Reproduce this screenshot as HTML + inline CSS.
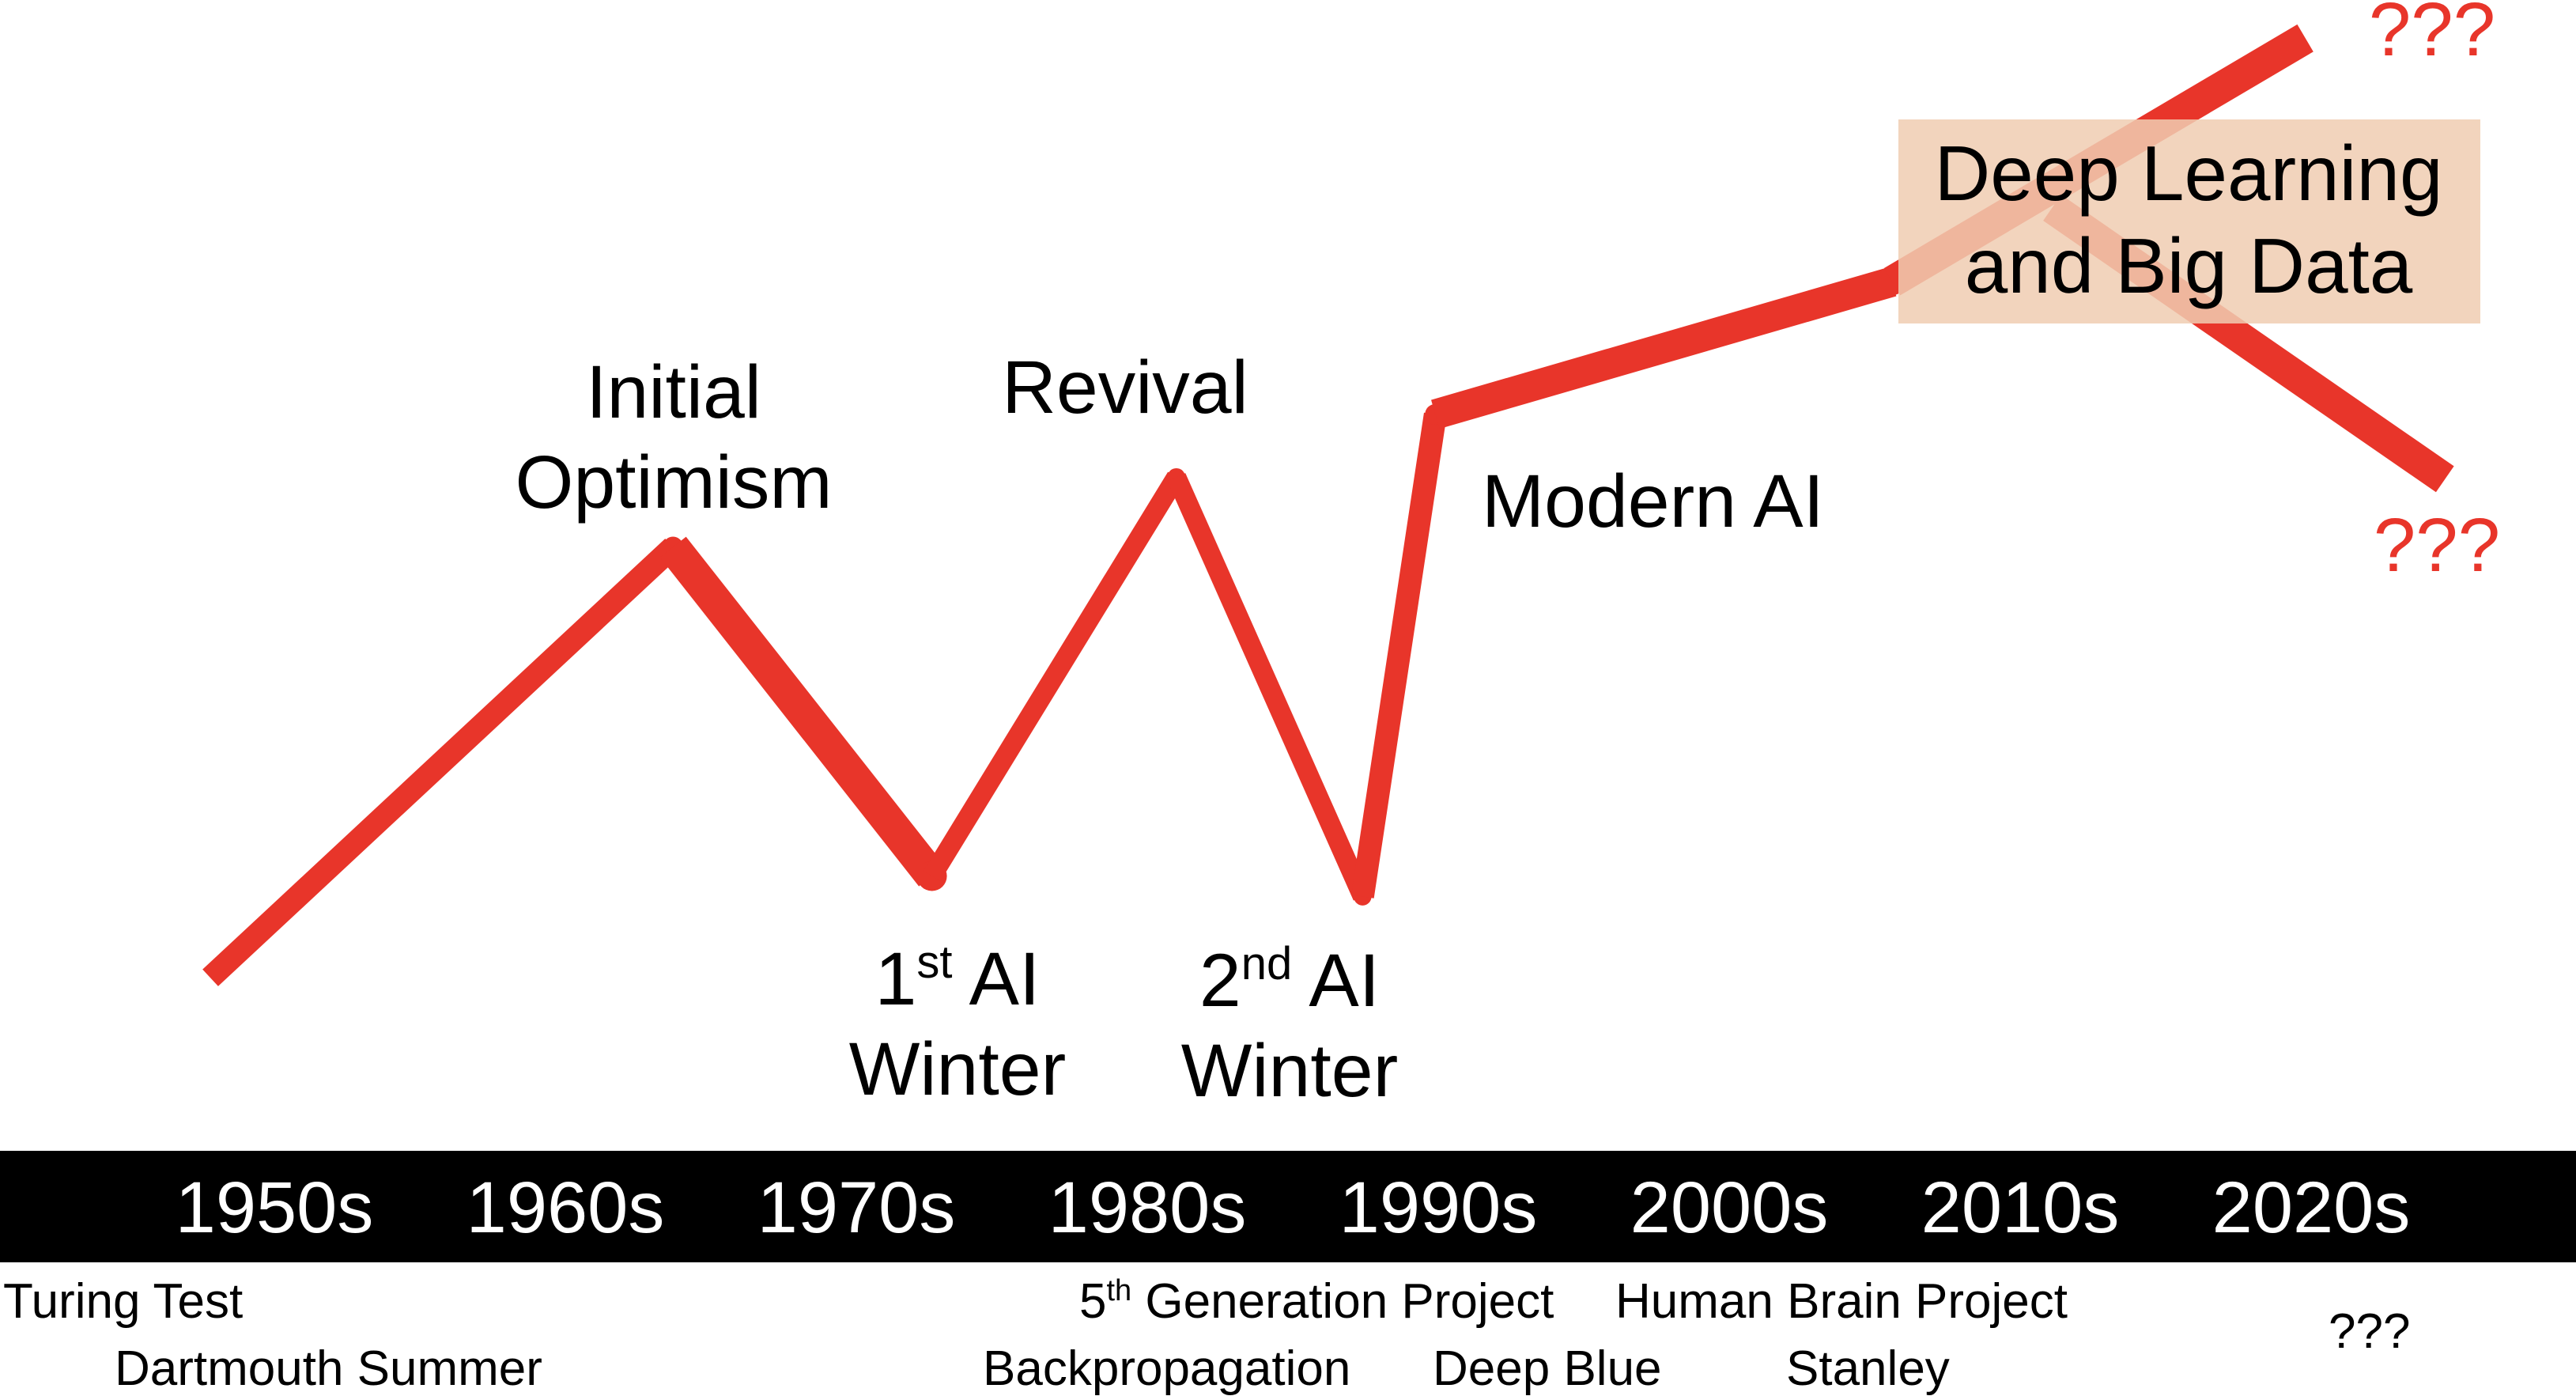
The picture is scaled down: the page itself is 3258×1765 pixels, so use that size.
<!DOCTYPE html>
<html><head><meta charset="utf-8">
<style>
html,body{margin:0;padding:0;background:#fff;}
svg{display:block;font-family:"Liberation Sans",sans-serif;}
</style></head>
<body>
<svg id="chart" width="3258" height="1765" viewBox="0 0 3258 1765">
  <g id="lines"></g>
  <rect x="2401" y="151" width="736" height="258" fill="rgb(240,205,178)" fill-opacity="0.85"/>
  <text x="2768" y="253" font-size="98" text-anchor="middle" fill="#000">Deep Learning</text>
  <text x="2768" y="370" font-size="98" text-anchor="middle" fill="#000">and Big Data</text>
  <text x="3076" y="70" font-size="96" text-anchor="middle" fill="#e8352a">???</text>
  <text x="3082" y="722" font-size="96" text-anchor="middle" fill="#e8352a">???</text>

  <text font-size="95" text-anchor="middle" fill="#000"><tspan x="852" y="528">Initial</tspan><tspan x="852" y="642">Optimism</tspan></text>
  <text x="1423" y="522" font-size="95" text-anchor="middle" fill="#000">Revival</text>
  <text x="1874" y="666" font-size="95" fill="#000">Modern AI</text>
  <text font-size="95" text-anchor="middle" fill="#000"><tspan x="1211" y="1270">1<tspan font-size="58" dy="-34">st</tspan><tspan dy="34"> AI</tspan></tspan><tspan x="1211" y="1384">Winter</tspan></text>
  <text font-size="95" text-anchor="middle" fill="#000"><tspan x="1631" y="1272">2<tspan font-size="58" dy="-34">nd</tspan><tspan dy="34"> AI</tspan></tspan><tspan x="1631" y="1386">Winter</tspan></text>

  <rect x="0" y="1455" width="3258" height="141" fill="#000"/>
  <g id="decades"></g>

  <g font-size="62" fill="#000">
    <text x="4" y="1666">Turing Test</text>
    <text x="145" y="1751">Dartmouth Summer</text>
    <text x="1365" y="1666">5<tspan font-size="38" dy="-22">th</tspan><tspan dy="22"> Generation Project</tspan></text>
    <text x="1243" y="1751">Backpropagation</text>
    <text x="1812" y="1751">Deep Blue</text>
    <text x="2043" y="1666">Human Brain Project</text>
    <text x="2259" y="1751">Stanley</text>
    <text x="2945" y="1704">???</text>
  </g>
</svg>
<script>
const decadeLabels = ["1950s","1960s","1970s","1980s","1990s","2000s","2010s","2020s"];
const decadeYears = [1955,1965,1975,1985,1995,2005,2015,2025];
const pathYears = [1952.8, 1968.7, 1977.6, 1986.0, 1992.4, 1994.9, 2010.6, 2024.8];
const pathValues = [4.9, 46.8, 14.8, 53.6, 12.8, 59.7, 72.6, 96.3];
const downYears = [2016.1, 2029.6];
const downValues = [79.8, 53.4];
const segmentWidths = [29, 42, 25, 25, 29, 38, 40];
const downWidth = 40;

function xScale(y){ return 347 + (y - 1955) * 36.8; }
function yScale(v){ return 1300 - 13 * v; }
const NS = "http://www.w3.org/2000/svg";
const lines = document.getElementById('lines');
function seg(x1,y1,x2,y2,w,name,joint){
  const l = document.createElementNS(NS,'line');
  l.setAttribute('x1',x1);l.setAttribute('y1',y1);l.setAttribute('x2',x2);l.setAttribute('y2',y2);
  l.setAttribute('stroke','#e8352a');l.setAttribute('stroke-width',w);l.setAttribute('stroke-linecap','butt');
  
  
  lines.appendChild(l);
  if(joint){
    const c = document.createElementNS(NS,'circle');
    c.setAttribute('cx',x2);c.setAttribute('cy',y2);c.setAttribute('r',w/2*0.9);c.setAttribute('fill','#e8352a');
    
    
    lines.appendChild(c);
  }
}
for(let i=0;i<pathYears.length-1;i++){
  seg(xScale(pathYears[i]),yScale(pathValues[i]),xScale(pathYears[i+1]),yScale(pathValues[i+1]),segmentWidths[i],'line-segment', i < pathYears.length-2);
}
seg(xScale(downYears[0]),yScale(downValues[0]),xScale(downYears[1]),yScale(downValues[1]),downWidth,'pessimistic-branch',false);
const dg = document.getElementById('decades');
decadeLabels.forEach((d,i)=>{
  const t = document.createElementNS(NS,'text');
  t.setAttribute('x', xScale(decadeYears[i]));
  t.setAttribute('y', 1558);
  t.setAttribute('font-size', 92);
  t.setAttribute('fill', '#fff');
  t.setAttribute('text-anchor', 'middle');
  
  
  t.textContent = d;
  dg.appendChild(t);
});
</script>
</body></html>
